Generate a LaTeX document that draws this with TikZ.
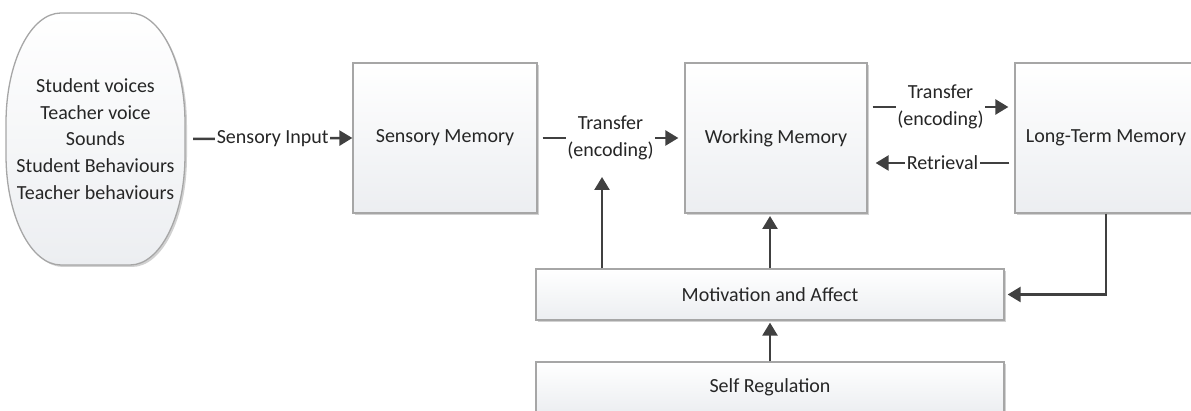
\documentclass[tikz,border=0pt]{standalone}
\usepackage{fontspec}
\setmainfont{Carlito}
\usetikzlibrary{arrows.meta,shadows}
\definecolor{boxline}{HTML}{A6A6A6}
\definecolor{boxbot}{HTML}{ECEEF1}
\definecolor{arrowcol}{HTML}{404040}
\definecolor{txtcol}{HTML}{262626}
\tikzset{
  membox/.style={draw=boxline, line width=1.3pt, top color=white, bottom color=boxbot,
    drop shadow={shadow xshift=2pt, shadow yshift=-2pt, fill=black, opacity=0.18},
    text=txtcol, align=center, inner sep=0pt},
  conn/.style={draw=arrowcol, line width=2.5pt, -{Triangle[length=13pt,width=15pt]}},
  lbl/.style={fill=white, text=txtcol, align=center, inner xsep=1.5pt, inner ysep=1pt}
}
\begin{document}
\begin{tikzpicture}[x=1pt,y=-1pt,font=\fontsize{20pt}{26.7pt}\selectfont]
\useasboundingbox (0,0) rectangle (1191,411);
\clip (0,0) rectangle (1191,411);
% source stadium
\path[draw=boxline, line width=1.3pt, top color=white, bottom color=boxbot,
    drop shadow={shadow xshift=2pt, shadow yshift=-2pt, fill=black, opacity=0.18}]
  (61,13) -- (130,13) arc[start angle=90,end angle=0,x radius=55pt,y radius=110pt]
  -- (185,155) arc[start angle=0,end angle=-90,x radius=55pt,y radius=110pt]
  -- (61,265) arc[start angle=-90,end angle=-180,x radius=55pt,y radius=110pt]
  -- (6,123) arc[start angle=180,end angle=90,x radius=55pt,y radius=110pt] -- cycle;
\node[text=txtcol, align=center, minimum width=179pt, minimum height=252pt, inner sep=0pt] (src) at (95.5,139)
  {Student voices\\Teacher voice\\Sounds\\Student Behaviours\\Teacher behaviours};
% boxes
\node[membox, minimum width=184pt, minimum height=150pt] (sm) at (445,138) {Sensory Memory};
\node[membox, minimum width=182pt, minimum height=150pt] (wm) at (776,138) {Working Memory};
\node[membox, minimum width=182pt, minimum height=150pt] (ltm) at (1106,138) {Long-Term Memory};
\node[membox, minimum width=468pt, minimum height=51pt] (mot) at (770,294.5) {Motivation and Affect};
\node[membox, minimum width=468pt, minimum height=51pt] (sr) at (770,387.5) {Self Regulation};
% connectors
\draw[conn] ([xshift=8pt]src.east) -- node[lbl] (lsi) {Sensory Input} (sm.west);
\draw[conn] ([xshift=5pt]sm.east) -- node[lbl] (lt1) {Transfer\\(encoding)} ([xshift=-6pt]wm.west);
\draw[conn] ([xshift=5pt,yshift=31pt]wm.east) -- node[lbl] (lt2) {Transfer\\(encoding)} ([xshift=-6pt,yshift=31pt]ltm.west);
\draw[conn] ([xshift=-5pt,yshift=-25pt]ltm.west) -- node[lbl] (lret) {Retrieval} ([xshift=8pt,yshift=-25pt]wm.east);
\coordinate (up1) at (602,177);
\draw[conn] (mot.north -| up1) -- (up1);
\coordinate (up2) at (770,216);
\draw[conn] (mot.north) -- (up2);
\draw[conn] (ltm.south) |- ([xshift=3pt]mot.east);
\draw[conn] (sr.north) -- ([yshift=-2pt]mot.south);
\end{tikzpicture}
\end{document}
